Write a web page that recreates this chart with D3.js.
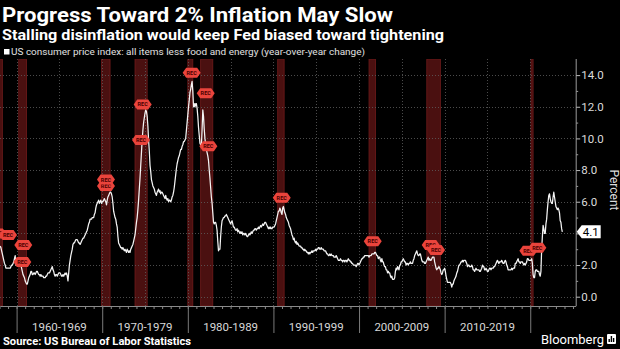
<!DOCTYPE html>
<html>
<head>
<meta charset="utf-8">
<script src="https://cdn.jsdelivr.net/npm/d3@7"></script>
<style>
  html, body { margin: 0; padding: 0; background: #000; }
  svg { display: block; }
</style>
</head>
<body>
<svg id="chart" width="620" height="349"></svg>
<script>
// ---- Text ----
const titleText = "Progress Toward 2% Inflation May Slow";
const subtitleText = "Stalling disinflation would keep Fed biased toward tightening";
const legendText = "US consumer price index: all items less food and energy (year-over-year change)";
const sourceText = "Source: US Bureau of Labor Statistics";
const axisTitle = "Percent";

// ---- Core CPI, year-over-year % change, monthly (Jan..Dec) ----
const cpi1958to1959 = [
  3.2, 3.1, 2.9, 2.7, 2.5, 2.3, 2.1, 2.0, 1.8, 1.8, 1.8, 1.8,
  1.8, 1.8, 1.8, 1.9, 2.0, 2.0, 2.1, 2.2, 2.4, 2.6, 2.0, 2.0
];
const cpi1960s = [
  2.0, 2.1, 2.1, 2.1, 2.1, 2.0, 1.8, 1.6, 1.4, 1.3, 1.2, 1.0,
  0.9, 0.8, 0.8, 1.0, 1.2, 1.3, 1.4, 1.6, 1.6, 1.4, 1.4, 1.5,
  1.5, 1.4, 1.5, 1.6, 1.6, 1.5, 1.4, 1.4, 1.3, 1.4, 1.3, 1.3,
  1.3, 1.2, 1.2, 1.2, 1.3, 1.3, 1.4, 1.5, 1.5, 1.5, 1.6, 1.7,
  1.8, 1.9, 1.7, 1.6, 1.4, 1.3, 1.4, 1.4, 1.3, 1.4, 1.5, 1.5,
  1.5, 1.4, 1.3, 1.3, 1.4, 1.3, 1.4, 1.5, 1.4, 1.5, 1.3, 1.0,
  1.5, 2.0, 2.3, 2.6, 2.8, 3.0, 3.3, 3.4, 3.4, 3.5, 3.6, 3.6,
  3.6, 3.5, 3.4, 3.4, 3.3, 3.4, 3.5, 3.6, 3.7, 3.7, 3.8, 3.9,
  4.0, 4.1, 4.2, 4.4, 4.6, 4.7, 4.9, 4.9, 4.9, 5.0, 5.0, 5.0,
  5.2, 5.3, 5.6, 5.8, 5.9, 6.0, 6.1, 5.9, 6.0, 6.1, 5.9, 6.0
];
const cpi1970s = [
  6.0, 6.1, 6.2, 6.1, 6.0, 5.8, 6.1, 6.3, 6.4, 6.5, 6.6, 6.6,
  6.5, 6.3, 5.9, 5.4, 5.2, 5.0, 4.9, 4.6, 4.4, 3.8, 3.4, 3.3,
  3.2, 3.1, 3.1, 3.0, 3.1, 3.0, 2.9, 3.0, 2.9, 2.8, 3.0, 2.9,
  2.8, 2.9, 2.8, 3.0, 3.1, 3.2, 3.3, 3.5, 3.7, 3.9, 4.3, 4.7,
  5.0, 5.5, 6.1, 6.8, 7.5, 8.3, 9.1, 9.9, 10.5, 11.0, 11.3, 11.6,
  11.8, 11.7, 11.4, 10.8, 9.9, 9.2, 8.3, 7.9, 7.4, 7.2, 7.0, 6.9,
  6.8, 6.6, 6.5, 6.4, 6.6, 6.7, 6.8, 6.6, 6.7, 6.5, 6.6, 6.6,
  6.5, 6.4, 6.3, 6.2, 6.4, 6.2, 6.1, 6.2, 6.0, 6.1, 6.1, 6.0,
  6.1, 6.3, 6.4, 6.6, 6.9, 7.3, 7.7, 8.1, 8.4, 8.6, 8.8, 8.9,
  9.1, 9.3, 9.3, 9.5, 9.6, 9.8, 9.8, 9.9, 10.0, 10.5, 11.0, 11.5
];
const cpi1980s = [
  12.0, 12.4, 12.9, 13.1, 13.4, 13.6, 13.0, 12.0, 12.2, 12.0, 12.2, 12.2,
  11.9, 11.4, 10.7, 10.2, 9.7, 9.6, 9.5, 10.6, 11.8, 11.4, 10.6, 10.0,
  9.6, 9.3, 9.1, 8.9, 8.6, 8.0, 7.5, 6.9, 6.3, 5.9, 5.3, 4.7,
  4.6, 4.7, 4.7, 4.5, 4.2, 3.5, 2.9, 3.0, 3.0, 3.8, 4.4, 4.8,
  4.9, 5.0, 5.0, 5.1, 5.1, 5.2, 5.1, 5.0, 4.9, 4.8, 4.7, 4.6,
  4.7, 4.8, 4.6, 4.4, 4.4, 4.3, 4.2, 4.2, 4.3, 4.1, 4.2, 4.1,
  4.0, 4.1, 4.0, 4.1, 3.9, 4.0, 4.0, 3.9, 4.0, 3.9, 3.8, 3.8,
  3.9, 4.0, 3.9, 4.0, 4.1, 4.0, 4.1, 4.2, 4.2, 4.3, 4.3, 4.2,
  4.3, 4.3, 4.4, 4.3, 4.4, 4.5, 4.4, 4.5, 4.6, 4.5, 4.6, 4.7,
  4.7, 4.6, 4.5, 4.4, 4.3, 4.4, 4.3, 4.4, 4.3, 4.3, 4.4, 4.4
];
const cpi1990s = [
  4.4, 4.5, 4.6, 4.8, 5.0, 5.2, 5.4, 5.4, 5.6, 5.5, 5.3, 5.2,
  5.6, 5.7, 5.5, 5.3, 5.2, 5.0, 4.9, 4.8, 4.7, 4.5, 4.4, 4.3,
  4.1, 3.9, 3.8, 3.6, 3.7, 3.5, 3.4, 3.5, 3.3, 3.4, 3.3, 3.2,
  3.2, 3.2, 3.1, 3.1, 3.0, 3.0, 2.9, 3.0, 2.9, 2.9, 2.8, 2.8,
  2.7, 2.8, 2.7, 2.8, 2.8, 2.9, 2.8, 2.9, 2.9, 2.9, 3.0, 2.9,
  3.0, 3.0, 3.1, 3.1, 3.0, 3.0, 3.1, 3.0, 3.0, 3.0, 2.9, 2.9,
  2.9, 2.8, 2.7, 2.7, 2.6, 2.6, 2.7, 2.6, 2.7, 2.6, 2.6, 2.6,
  2.5, 2.5, 2.5, 2.6, 2.5, 2.4, 2.3, 2.3, 2.3, 2.4, 2.3, 2.3,
  2.2, 2.3, 2.3, 2.2, 2.3, 2.3, 2.2, 2.3, 2.4, 2.3, 2.3, 2.2,
  2.2, 2.1, 2.1, 2.0, 2.0, 2.0, 2.0, 1.9, 2.0, 2.1, 2.1, 2.0
];
const cpi2000s = [
  2.1, 2.2, 2.3, 2.4, 2.4, 2.5, 2.5, 2.6, 2.6, 2.6, 2.6, 2.6,
  2.6, 2.5, 2.6, 2.6, 2.6, 2.7, 2.7, 2.7, 2.7, 2.8, 2.8, 2.7,
  2.6, 2.6, 2.4, 2.5, 2.5, 2.3, 2.2, 2.4, 2.2, 2.2, 2.0, 1.9,
  1.9, 1.7, 1.7, 1.5, 1.6, 1.5, 1.5, 1.3, 1.2, 1.3, 1.1, 1.1,
  1.1, 1.2, 1.6, 1.8, 1.7, 1.9, 1.8, 1.7, 2.0, 2.0, 2.2, 2.2,
  2.3, 2.4, 2.3, 2.2, 2.2, 2.0, 2.1, 2.1, 2.0, 2.1, 2.1, 2.2,
  2.1, 2.1, 2.1, 2.3, 2.4, 2.6, 2.7, 2.8, 2.9, 2.7, 2.6, 2.6,
  2.7, 2.7, 2.5, 2.3, 2.2, 2.2, 2.2, 2.1, 2.1, 2.2, 2.3, 2.4,
  2.5, 2.3, 2.4, 2.3, 2.3, 2.4, 2.5, 2.5, 2.5, 2.2, 2.0, 1.8,
  1.7, 1.8, 1.8, 1.9, 1.8, 1.7, 1.5, 1.4, 1.5, 1.7, 1.7, 1.8
];
const cpi2010s = [
  1.6, 1.3, 1.1, 0.9, 0.9, 0.9, 0.9, 0.9, 0.8, 0.6, 0.8, 0.8,
  1.0, 1.1, 1.2, 1.3, 1.5, 1.6, 1.8, 2.0, 2.0, 2.1, 2.2, 2.2,
  2.3, 2.2, 2.3, 2.3, 2.3, 2.2, 2.1, 1.9, 2.0, 2.0, 1.9, 1.9,
  1.9, 2.0, 1.9, 1.7, 1.7, 1.6, 1.7, 1.8, 1.7, 1.7, 1.7, 1.7,
  1.6, 1.6, 1.7, 1.8, 2.0, 1.9, 1.9, 1.7, 1.7, 1.8, 1.7, 1.6,
  1.6, 1.7, 1.8, 1.8, 1.7, 1.8, 1.8, 1.8, 1.9, 1.9, 2.0, 2.1,
  2.2, 2.3, 2.2, 2.1, 2.2, 2.2, 2.2, 2.3, 2.2, 2.1, 2.1, 2.2,
  2.3, 2.2, 2.0, 1.9, 1.7, 1.7, 1.7, 1.7, 1.7, 1.8, 1.7, 1.8,
  1.8, 1.8, 2.1, 2.1, 2.2, 2.3, 2.4, 2.2, 2.2, 2.1, 2.2, 2.2,
  2.2, 2.1, 2.0, 2.1, 2.0, 2.1, 2.2, 2.4, 2.4, 2.3, 2.3, 2.3
];
const cpi2020s = [
  2.3, 2.4, 2.1, 1.4, 1.2, 1.2, 1.6, 1.7, 1.7, 1.6, 1.6, 1.6,
  1.4, 1.3, 1.6, 3.0, 3.8, 4.5, 4.3, 4.0, 4.0, 4.6, 4.9, 5.5,
  6.0, 6.4, 6.5, 6.2, 6.0, 5.9, 5.9, 6.3, 6.6, 6.3, 6.0, 5.7,
  5.6, 5.5, 5.6, 5.5, 5.3, 4.8, 4.7, 4.3, 4.1
];
const seriesBlocks = [
  [1958, cpi1958to1959], [1960, cpi1960s], [1970, cpi1970s], [1980, cpi1980s],
  [1990, cpi1990s], [2000, cpi2000s], [2010, cpi2010s], [2020, cpi2020s]
];

// ---- US recessions (peak month, trough month) ----
const recessions = [
  ["1957-08", "1958-04"], ["1960-04", "1961-02"], ["1969-12", "1970-11"],
  ["1973-11", "1975-03"], ["1980-01", "1980-07"], ["1981-07", "1982-11"],
  ["1990-07", "1991-03"], ["2001-03", "2001-11"], ["2007-12", "2009-06"],
  ["2020-02", "2020-04"]
];
// "REC" event flags: [decimal year, percent]
const recFlags = [
  [1957.75, 4.0], [1959.0, 3.9], [1960.67, 2.2], [1960.78, 3.27],
  [1970.44, 7.0], [1970.44, 7.4], [1974.53, 9.9], [1974.73, 12.15],
  [1980.45, 14.15], [1982.09, 12.85], [1982.4, 9.5], [1990.97, 6.25],
  [2001.6, 3.5], [2008.37, 3.27], [2009.0, 2.95], [2019.78, 2.9], [2020.83, 3.1]
];

// ---- Axis labels ----
const yTicks = [0, 2, 4, 6, 8, 10, 12, 14];
const yMinorTicks = [1, 3, 5, 7, 9, 11, 13];
const decadeLabels = ["1960-1969", "1970-1979", "1980-1989", "1990-1999", "2000-2009", "2010-2019"];
const decadeStarts = [1960, 1970, 1980, 1990, 2000, 2010];
const decadeBounds = [1960, 1970, 1980, 1990, 2000, 2010, 2020];
const gridYears = [1960, 1965, 1970, 1975, 1980, 1985, 1990, 1995, 2000, 2005, 2010, 2015, 2020];
const lastValue = 4.1;

// ---- Build the monthly series (plotted at month end) ----
const series = [];
seriesBlocks.forEach(([y0, arr]) => {
  arr.forEach((v, i) => series.push({ t: y0 + (i + 1) / 12, v }));
});
const monthStart = s => { const [yy, mm] = s.split("-").map(Number); return yy + (mm - 1) / 12; };
const monthEnd = s => { const [yy, mm] = s.split("-").map(Number); return yy + mm / 12; };

// ---- Layout ----
const plotTop = 59, plotBottom = 306, plotRight = 575.7;
const x = d3.scaleLinear().domain([1958.06, 2025.31]).range([0, plotRight]);
const y = d3.scaleLinear().domain([0, 14]).range([296.7, 75.1]);

const svg = d3.select("#chart");
svg.append("rect").attr("width", 620).attr("height", 349).attr("fill", "#000");

svg.append("defs").append("clipPath").attr("id", "plotClip")
  .append("rect").attr("x", 0).attr("y", plotTop)
  .attr("width", plotRight).attr("height", plotBottom - plotTop);

const plot = svg.append("g").attr("clip-path", "url(#plotClip)");

// Recession shading
plot.append("g").selectAll("rect").data(recessions).join("rect")
  .attr("x", d => x(monthStart(d[0])))
  .attr("y", plotTop)
  .attr("width", d => Math.max(1, x(monthEnd(d[1])) - x(monthStart(d[0]))))
  .attr("height", plotBottom - plotTop)
  .attr("fill", "#4a1010")
  .attr("stroke", "#711b1b")
  .attr("stroke-width", 0.8);

// Grid
const grid = plot.append("g").attr("stroke", "#5e5e5e").attr("stroke-width", 0.8)
  .attr("stroke-dasharray", "1,2");
grid.selectAll(".h").data(yTicks).join("line").attr("class", "h")
  .attr("x1", 0).attr("x2", plotRight)
  .attr("y1", d => Math.round(y(d)) + 0.5).attr("y2", d => Math.round(y(d)) + 0.5);
grid.selectAll(".v").data(gridYears).join("line").attr("class", "v")
  .attr("y1", plotTop).attr("y2", plotBottom)
  .attr("x1", d => Math.round(x(d)) + 0.5).attr("x2", d => Math.round(x(d)) + 0.5);

// CPI line
plot.append("path").datum(series)
  .attr("fill", "none")
  .attr("stroke", "#f4f4f4")
  .attr("stroke-width", 1.25)
  .attr("stroke-linejoin", "round")
  .attr("d", d3.line().x(d => x(d.t)).y(d => y(d.v)));

// REC flags
const flagPath = "M-9,0 L-5.5,-5 L5.5,-5 L9,0 L5.5,5 L-5.5,5 Z";
const flags = plot.append("g").selectAll("g").data(recFlags).join("g")
  .attr("transform", d => `translate(${x(d[0])},${y(d[1])})`);
flags.append("path").attr("d", flagPath).attr("fill", "#ea443c");
flags.append("text").text("REC")
  .attr("text-anchor", "middle").attr("dy", "0.35em")
  .attr("font-family", "Roboto, 'DejaVu Sans', sans-serif")
  .attr("font-size", 5.5).attr("font-weight", "bold").attr("fill", "#4a0000");

// Bottom axis: yearly ticks
const xAxis = svg.append("g").attr("transform", `translate(0,${plotBottom})`)
  .call(d3.axisBottom(x).tickValues(d3.range(1958, 2026)).tickSize(3).tickSizeOuter(0).tickFormat(""));
xAxis.select(".domain").attr("stroke", "#8a8a8a");
xAxis.selectAll(".tick line").attr("stroke", "#8a8a8a");

// Decade separators and labels
const decAxis = svg.append("g").attr("transform", `translate(0,${plotBottom})`)
  .call(d3.axisBottom(x).tickValues(decadeBounds).tickSize(27).tickFormat(""));
decAxis.select(".domain").remove();
decAxis.selectAll(".tick line").attr("stroke", "#7a7a7a");

svg.append("g").selectAll("text").data(decadeLabels).join("text")
  .attr("x", (d, i) => x(decadeStarts[i] + 5))
  .attr("y", 331)
  .attr("text-anchor", "middle")
  .attr("font-family", "Roboto, sans-serif")
  .attr("font-size", 11.5)
  .attr("fill", "#d8d8d8")
  .text(d => d);

// Right axis (the 4.0 label gives way to the last-value tag)
svg.append("line").attr("x1", plotRight + 0.5).attr("x2", plotRight + 0.5)
  .attr("y1", plotTop).attr("y2", plotBottom).attr("stroke", "#9a9a9a");
const fmt = d3.format(".1f");
const yAxis = svg.append("g").attr("transform", `translate(${plotRight + 0.5},0)`)
  .call(d3.axisRight(y).tickValues(yTicks).tickSize(4).tickPadding(1)
    .tickFormat(d => Math.abs(y(d) - y(lastValue)) < 12 ? "" : fmt(d)));
yAxis.select(".domain").remove();
yAxis.selectAll(".tick line").attr("stroke", "#bbb");
yAxis.selectAll(".tick text").attr("fill", "#dcdcdc")
  .attr("font-family", "Roboto, sans-serif").attr("font-size", 11.5);
const yMinor = svg.append("g").attr("transform", `translate(${plotRight + 0.5},0)`)
  .call(d3.axisRight(y).tickValues(yMinorTicks).tickSize(2).tickFormat(""));
yMinor.select(".domain").remove();
yMinor.selectAll(".tick line").attr("stroke", "#999");

svg.append("text")
  .attr("transform", `translate(610,190) rotate(90)`)
  .attr("text-anchor", "middle")
  .attr("font-family", "Roboto, sans-serif")
  .attr("font-size", 12)
  .attr("fill", "#dcdcdc")
  .text(axisTitle);

// Last value tag
const yl = y(lastValue);
svg.append("path")
  .attr("d", `M${plotRight + 1},${yl} L${plotRight + 6},${yl - 6.5} L${plotRight + 25},${yl - 6.5} L${plotRight + 25},${yl + 6.5} L${plotRight + 6},${yl + 6.5} Z`)
  .attr("fill", "#fff");
svg.append("text")
  .attr("x", plotRight + 7).attr("y", yl).attr("dy", "0.36em")
  .attr("font-family", "Roboto, sans-serif").attr("font-size", 11.5)
  .attr("fill", "#000").text(fmt(lastValue));

// Titles and legend
svg.append("text").attr("x", 2).attr("y", 22)
  .attr("font-family", "Roboto, sans-serif").attr("font-weight", "bold")
  .attr("font-size", 20).attr("fill", "#fff")
  .attr("textLength", 391).attr("lengthAdjust", "spacingAndGlyphs")
  .text(titleText);
svg.append("text").attr("x", 2).attr("y", 40)
  .attr("font-family", "Roboto, sans-serif").attr("font-weight", "bold")
  .attr("font-size", 15.5).attr("fill", "#fff")
  .attr("textLength", 442).attr("lengthAdjust", "spacingAndGlyphs")
  .text(subtitleText);
svg.append("rect").attr("x", 4).attr("y", 49).attr("width", 5.5).attr("height", 5.5).attr("fill", "#fff");
svg.append("text").attr("x", 11).attr("y", 55)
  .attr("font-family", "Roboto, sans-serif")
  .attr("font-size", 9.5).attr("fill", "#e0e0e0")
  .attr("textLength", 354).attr("lengthAdjust", "spacingAndGlyphs")
  .text(legendText);

// Footer
svg.append("text").attr("x", 3).attr("y", 345)
  .attr("font-family", "Roboto, sans-serif").attr("font-weight", "bold")
  .attr("font-size", 10.5).attr("fill", "#fff")
  .attr("textLength", 188).attr("lengthAdjust", "spacingAndGlyphs")
  .text(sourceText);
svg.append("text").attr("x", 541).attr("y", 344)
  .attr("font-family", "Roboto, sans-serif")
  .attr("font-size", 13).attr("fill", "#fff")
  .attr("textLength", 63).attr("lengthAdjust", "spacingAndGlyphs")
  .text("Bloomberg");
const logo = svg.append("g").attr("transform", "translate(607,334)");
logo.append("rect").attr("width", 9).attr("height", 10).attr("rx", 1).attr("fill", "#fff");
logo.selectAll(".bar").data([3, 6, 4]).join("rect").attr("class", "bar")
  .attr("x", (d, i) => 1.5 + i * 2.2).attr("y", d => 8 - d).attr("width", 1.4).attr("height", d => d)
  .attr("fill", "#000");
</script>
</body>
</html>
